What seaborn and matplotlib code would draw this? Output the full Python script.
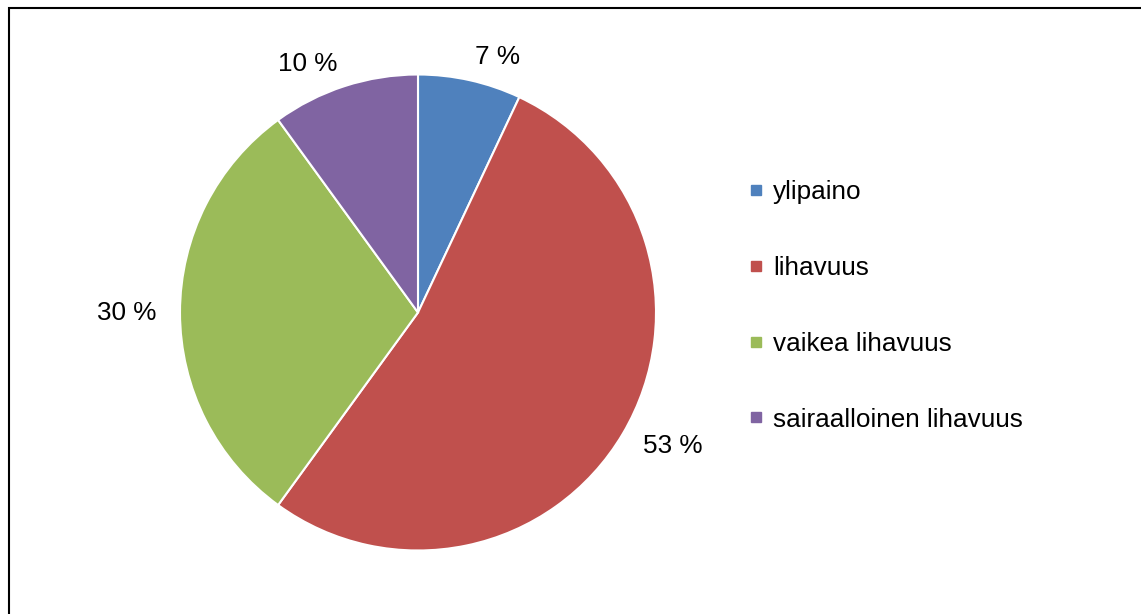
import matplotlib
matplotlib.use("Agg")
import matplotlib.pyplot as plt
from matplotlib.lines import Line2D
from matplotlib.patches import Rectangle
import seaborn as sns

# Body-weight class shares (%)
categories = ["ylipaino", "lihavuus", "vaikea lihavuus", "sairaalloinen lihavuus"]
shares = [7, 53, 30, 10]
pct_labels = ["7 %", "53 %", "30 %", "10 %"]
colors = ["#4F81BD", "#C0504D", "#9BBB59", "#8064A2"]

sns.set_theme(style="white", palette=sns.color_palette(colors))
plt.rcParams["font.family"] = ["Liberation Sans", "DejaVu Sans"]
plt.rcParams["text.color"] = "black"

W, H = 1141, 614
fig = plt.figure(figsize=(W / 100, H / 100), dpi=100)
fig.patch.set_facecolor("white")

cx, cy, r = 418, 312.5, 238
ax = fig.add_axes([(cx - r) / W, (H - cy - r) / H, 2 * r / W, 2 * r / H])
ax.set_facecolor("none")

wedges, texts = ax.pie(
    shares,
    labels=pct_labels,
    colors=sns.color_palette(),
    startangle=90,
    counterclock=False,
    labeldistance=1.1,
    wedgeprops=dict(edgecolor="white", linewidth=1.5),
    textprops=dict(fontsize=18.8, color="black"),
)
ax.set_xlim(-1, 1)
ax.set_ylim(-1, 1)
ax.set_aspect("equal")
ax.axis("off")

handles = [Line2D([0], [0], marker="s", linestyle="none", markersize=6.5,
                  markerfacecolor=c, markeredgecolor=c) for c in colors]
leg = fig.legend(handles, categories, loc="center left",
                 bbox_to_anchor=(748 / W, (H - 306) / H), frameon=False,
                 fontsize=18.8, handlelength=0.6, handletextpad=0.35,
                 labelspacing=1.98, borderpad=0, borderaxespad=0)
for t in leg.get_texts():
    t.set_color("black")

# Chart frame
fig.add_artist(Rectangle((8.5 / W, -0.05), 1.2, (H - 7.5) / H + 0.05,
                         transform=fig.transFigure, fill=False,
                         edgecolor="black", linewidth=1.5))

fig.savefig("out.png", dpi=100, facecolor="white")
